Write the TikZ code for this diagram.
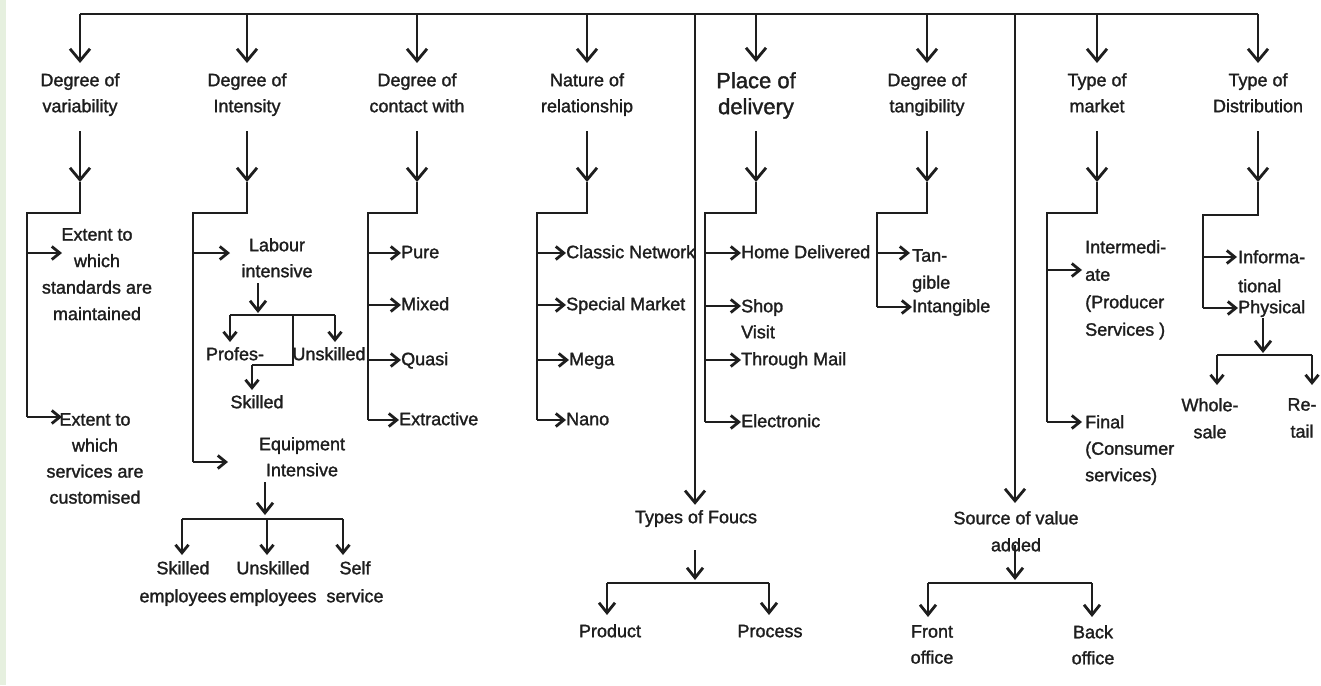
\documentclass[tikz,border=0pt]{standalone}
\usepackage{fontspec}
\setmainfont[FakeBold=1.5]{Liberation Sans}
\usetikzlibrary{arrows.meta}
\definecolor{ink}{HTML}{1E1E1E}
\definecolor{strip}{HTML}{E6F0DF}
\begin{document}
\begin{tikzpicture}[x=1pt,y=-1pt,
  ln/.style={line width=2.8pt, draw=ink},
  big/.style={ln, -{Straight Barb[length=12pt,width=20pt]}},
  md/.style={ln, -{Straight Barb[length=10pt,width=16pt]}},
  sm/.style={ln, -{Straight Barb[length=8pt,width=13pt]}},
  tx/.style={inner sep=0pt, text=ink, font=\fontsize{18}{26}\selectfont, execute at begin node=\strut},
  hd/.style={tx, align=center, anchor=north},
  lt/.style={tx, align=left, anchor=north west},
  one/.style={tx, anchor=west},
  ctr/.style={tx, anchor=center}
]
\useasboundingbox (0,0) rectangle (1321,685);
\fill[white] (0,0) rectangle (1321,685);
\fill[strip] (0,0) rectangle (6,685);

% reference rows
\coordinate (r0) at (0,14);
\coordinate (r2) at (0,131);
\coordinate (r3) at (0,182);
\coordinate (r4) at (0,213);

% headings
\node[hd] (h1) at (80,73) {Degree of\\variability};
\node[hd] (h2) at (247,73) {Degree of\\Intensity};
\node[hd] (h3) at (417,73) {Degree of\\contact with};
\node[hd] (h4) at (587,73) {Nature of\\relationship};
\node[hd, font=\fontsize{22}{26}\selectfont] (h5) at (756,72) {Place of\\delivery};
\node[hd] (h6) at (927,73) {Degree of\\tangibility};
\node[hd] (h7) at (1097,73) {Type of\\market};
\node[hd] (h8) at (1258,73) {Type of\\Distribution};

% top bar
\draw[ln] (h1 |- r0) -- (h8 |- r0);
\foreach \i in {1,...,8}{
  \draw[big] (h\i |- r0) -- ([yshift=10pt]h\i.north);
  \draw[big] (h\i |- r2) -- (h\i |- r3);
}

% ---------- 1 variability
\coordinate (b1t) at (27,213);
\coordinate (b1b) at (27,417);
\draw[ln] (h1 |- r3) -- (h1 |- r4) -- (b1t) -- (b1b);
\node[hd, font=\fontsize{18}{26.5}\selectfont] (v1) at (97,228) {Extent to\\which\\standards are\\maintained};
\node[hd] (v2) at (95,413) {Extent to\\which\\services are\\customised};
\draw[sm] (b1t |- 0,253) -- (62,253);
\draw[sm] (b1b) -- (62,417);

% ---------- 2 intensity
\coordinate (b2t) at (193,213);
\coordinate (b2b) at (193,462);
\draw[ln] (h2 |- r3) -- (h2 |- r4) -- (b2t) -- (b2b);
\node[hd] (i1) at (277,238) {Labour\\intensive};
\draw[sm] (b2t |- 0,253) -- (230,253);
\draw[md] (258,283) -- (258,313);
\coordinate (j1l) at (230,315);
\coordinate (j1r) at (335,315);
\draw[ln] (j1l) -- (j1r);
\node[ctr] (ip) at (235,355) {Profes-};
\node[ctr] (iu) at (329,355) {Unskilled};
\node[ctr] (is) at (257,403) {Skilled};
\draw[sm] (j1l) -- (230,342);
\draw[sm] (j1r) -- (335,342);
\draw[ln] (293,315) -- (293,365) -- (252,365);
\draw[sm] (252,365) -- (252,390);
\node[hd] (i2) at (302,437) {Equipment\\Intensive};
\draw[sm] (b2b) -- (228,462);
\draw[md] (265,482) -- (265,515);
\coordinate (j2l) at (182,519);
\coordinate (j2r) at (343,519);
\draw[ln] (j2l) -- (j2r);
\node[hd, font=\fontsize{18}{28}\selectfont] (e1) at (183,561) {Skilled\\employees};
\node[hd, font=\fontsize{18}{28}\selectfont] (e2) at (273,561) {Unskilled\\employees};
\node[hd, font=\fontsize{18}{28}\selectfont] (e3) at (355,561) {Self\\service};
\draw[sm] (j2l) -- (182,555);
\draw[sm] (267,519) -- (267,555);
\draw[sm] (j2r) -- (343,555);

% ---------- 3 contact
\coordinate (b3t) at (368,213);
\coordinate (b3b) at (368,420);
\draw[ln] (h3 |- r3) -- (h3 |- r4) -- (b3t) -- (b3b);
\node[one] (c1) at (401,253) {Pure};
\node[one] (c2) at (401,305) {Mixed};
\node[one] (c3) at (401,360) {Quasi};
\node[one] (c4) at (399,420) {Extractive};
\draw[sm] (b3t |- c1) -- (c1.west);
\draw[sm] (b3t |- c2) -- (c2.west);
\draw[sm] (b3t |- c3) -- (c3.west);
\draw[sm] (b3b) -- (c4.west);

% ---------- 4 nature
\coordinate (b4t) at (537,213);
\coordinate (b4b) at (537,420);
\draw[ln] (h4 |- r3) -- (h4 |- r4) -- (b4t) -- (b4b);
\node[one] (n1) at (566,253) {Classic Network};
\node[one] (n2) at (566,305) {Special Market};
\node[one] (n3) at (569,360) {Mega};
\node[one] (n4) at (566,420) {Nano};
\draw[sm] (b4t |- n1) -- (n1.west);
\draw[sm] (b4t |- n2) -- (n2.west);
\draw[sm] (b4t |- n3) -- (n3.west);
\draw[sm] (b4b) -- (n4.west);

% ---------- 5 place
\coordinate (b5t) at (705,213);
\coordinate (b5b) at (705,422);
\draw[ln] (h5 |- r3) -- (h5 |- r4) -- (b5t) -- (b5b);
\node[one] (p1) at (741,253) {Home Delivered};
\node[lt] (p2) at (741,299) {Shop\\Visit};
\node[one] (p3) at (741,360) {Through Mail};
\node[one] (p4) at (741,422) {Electronic};
\draw[sm] (b5t |- p1) -- (p1.west);
\draw[sm] (b5t |- 0,306) -- (741,306);
\draw[sm] (b5t |- p3) -- (p3.west);
\draw[sm] (b5b) -- (p4.west);

% ---------- types of focus
\coordinate (f0) at (695,14);
\node[ctr] (foc) at (696,518) {Types of Foucs};
\draw[big] (f0) -- (f0 |- foc.north);
\draw[md] (695,550) -- (695,580);
\coordinate (k1l) at (607,583);
\coordinate (k1r) at (769,583);
\draw[ln] (k1l) -- (k1r);
\node[ctr] (pr1) at (610,632) {Product};
\node[ctr] (pr2) at (770,632) {Process};
\draw[md] (k1l) -- (607,615);
\draw[md] (k1r) -- (769,615);

% ---------- 6 tangibility
\coordinate (b6t) at (877,213);
\coordinate (b6b) at (877,307);
\draw[ln] (h6 |- r3) -- (h6 |- r4) -- (b6t) -- (b6b);
\node[lt, font=\fontsize{18}{27}\selectfont] (t1) at (912,249) {Tan-\\gible};
\node[one] (t2) at (912,307) {Intangible};
\draw[sm] (b6t |- 0,253) -- (910,253);
\draw[sm] (b6b) -- (t2.west);

% ---------- source of value added
\coordinate (s0) at (1015,14);
\node[hd, font=\fontsize{18}{27}\selectfont] (src) at (1016,511) {Source of value\\added};
\draw[big] (s0) -- (s0 |- 0,503);
\draw[md] (1015,545) -- (1015,580);
\coordinate (k2l) at (928,583);
\coordinate (k2r) at (1092,583);
\draw[ln] (k2l) -- (k2r);
\node[hd] (fo) at (932,625) {Front\\office};
\node[hd] (bo) at (1093,625) {Back\\office};
\draw[md] (k2l) -- (928,617);
\draw[md] (k2r) -- (1092,617);

% ---------- 7 market
\coordinate (b7t) at (1047,213);
\coordinate (b7b) at (1047,422);
\draw[ln] (h7 |- r3) -- (h7 |- r4) -- (b7t) -- (b7b);
\node[lt, font=\fontsize{18}{27.5}\selectfont] (m1) at (1085,240) {Intermedi-\\ate\\(Producer\\Services )};
\node[lt, font=\fontsize{18}{26.5}\selectfont] (m2) at (1085,415) {Final\\(Consumer\\services)};
\draw[sm] (b7t |- 0,270) -- (1082,270);
\draw[sm] (b7b) -- (1082,422);

% ---------- 8 distribution
\coordinate (b8t) at (1203,215);
\coordinate (b8b) at (1203,308);
\draw[ln] (h8 |- r3) -- (h8 |- b8t) -- (b8t) -- (b8b);
\node[lt, font=\fontsize{18}{29}\selectfont] (d1) at (1238,250) {Informa-\\tional};
\node[one] (d2) at (1238,308) {Physical};
\draw[sm] (b8t |- 0,257) -- (1237,257);
\draw[sm] (b8b) -- (d2.west);
\draw[md] (1263,318) -- (1263,353);
\coordinate (k3l) at (1217,355);
\coordinate (k3r) at (1312,355);
\draw[ln] (k3l) -- (k3r);
\node[hd, font=\fontsize{18}{27}\selectfont] (w1) at (1210,398) {Whole-\\sale};
\node[hd, font=\fontsize{18}{27}\selectfont] (w2) at (1302,398) {Re-\\tail};
\draw[sm] (k3l) -- (1217,385);
\draw[sm] (k3r) -- (1312,385);
\end{tikzpicture}
\end{document}
